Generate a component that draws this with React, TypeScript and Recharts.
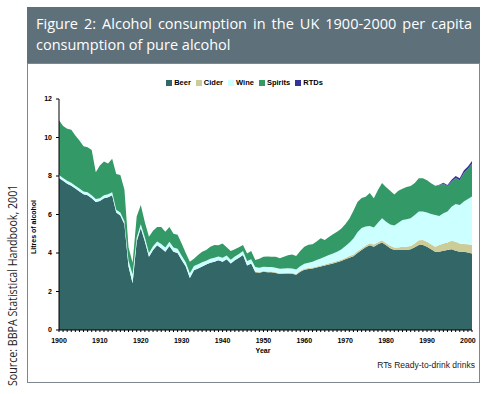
import React from 'react'
import { AreaChart, Area, XAxis, YAxis, Legend } from 'recharts'

// litres of pure alcohol per head, one value per year from 1900 to 2001
const beer = [
  7.9, 7.75, 7.6, 7.5, 7.35, 7.2, 7.05, 7.0, 6.85, 6.65,
  6.7, 6.85, 6.9, 7.0, 6.1, 5.95, 5.5, 3.3, 2.43, 4.6,
  5.3, 4.6, 3.8, 4.15, 4.4, 4.25, 4.07, 4.36, 4.07, 4.0,
  3.64, 3.3, 2.7, 3.1, 3.2, 3.3, 3.4, 3.5, 3.55, 3.62,
  3.55, 3.67, 3.45, 3.62, 3.75, 3.9, 3.35, 3.45, 3.0, 2.97,
  3.02, 3.0, 3.0, 2.96, 2.91, 2.92, 2.94, 2.92, 2.87, 3.03,
  3.13, 3.17, 3.2, 3.25, 3.3, 3.35, 3.4, 3.45, 3.52, 3.58,
  3.67, 3.75, 3.83, 4.0, 4.15, 4.3, 4.4, 4.33, 4.45, 4.55,
  4.4, 4.25, 4.15, 4.15, 4.16, 4.16, 4.19, 4.3, 4.42, 4.42,
  4.33, 4.19, 4.07, 4.07, 4.12, 4.16, 4.19, 4.12, 4.07, 4.07,
  4.02, 3.98,
]

const cider = [
  0, 0, 0, 0, 0, 0, 0, 0, 0, 0,
  0, 0, 0, 0, 0, 0, 0, 0, 0, 0,
  0, 0, 0, 0, 0, 0, 0, 0, 0, 0,
  0, 0, 0, 0, 0, 0, 0, 0, 0, 0,
  0, 0, 0, 0, 0, 0, 0, 0, 0.04, 0.04,
  0.04, 0.04, 0.04, 0.04, 0.04, 0.04, 0.04, 0.04, 0.04, 0.05,
  0.05, 0.05, 0.05, 0.05, 0.05, 0.05, 0.07, 0.07, 0.07, 0.07,
  0.07, 0.09, 0.09, 0.09, 0.09, 0.09, 0.11, 0.11, 0.11, 0.11,
  0.11, 0.13, 0.13, 0.13, 0.17, 0.17, 0.18, 0.2, 0.24, 0.25,
  0.26, 0.26, 0.26, 0.35, 0.38, 0.38, 0.45, 0.47, 0.43, 0.4,
  0.43, 0.44,
]

const wine = [
  0.15, 0.15, 0.15, 0.15, 0.15, 0.15, 0.15, 0.15, 0.15, 0.15,
  0.15, 0.15, 0.15, 0.15, 0.15, 0.15, 0.15, 0.3, 0.45, 0.2,
  0.2, 0.2, 0.2, 0.2, 0.2, 0.22, 0.22, 0.22, 0.22, 0.22,
  0.22, 0.22, 0.25, 0.22, 0.22, 0.22, 0.2, 0.2, 0.2, 0.2,
  0.2, 0.2, 0.2, 0.2, 0.2, 0.2, 0.23, 0.23, 0.23, 0.23,
  0.23, 0.23, 0.23, 0.23, 0.23, 0.23, 0.23, 0.23, 0.23, 0.23,
  0.26, 0.28, 0.3, 0.33, 0.37, 0.4, 0.43, 0.45, 0.48, 0.53,
  0.61, 0.69, 0.83, 0.99, 1.06, 0.99, 0.89, 0.89, 1.01, 1.14,
  1.11, 1.1, 1.15, 1.29, 1.38, 1.42, 1.43, 1.47, 1.49, 1.48,
  1.51, 1.58, 1.64, 1.5, 1.56, 1.61, 1.76, 1.96, 1.99, 2.2,
  2.35, 2.51,
]

const spirits = [
  2.85, 2.7, 2.7, 2.75, 2.6, 2.5, 2.35, 2.35, 2.35, 1.4,
  1.7, 1.75, 1.6, 1.75, 1.85, 1.95, 1.65, 0.7, 0.62, 1.1,
  1.0, 0.8, 0.85, 0.8, 0.75, 0.88, 0.81, 0.77, 0.71, 0.73,
  0.64, 0.48, 0.6, 0.38, 0.48, 0.55, 0.55, 0.63, 0.67, 0.58,
  0.75, 0.43, 0.45, 0.38, 0.35, 0.32, 0.4, 0.42, 0.37, 0.46,
  0.51, 0.55, 0.53, 0.57, 0.55, 0.61, 0.67, 0.73, 0.71, 0.79,
  0.89, 0.93, 0.91, 0.97, 1.04, 0.88, 0.93, 1.01, 1.03, 1.08,
  1.15, 1.25, 1.45, 1.57, 1.56, 1.54, 1.72, 1.51, 1.7, 1.84,
  1.8, 1.75, 1.61, 1.67, 1.63, 1.68, 1.68, 1.67, 1.73, 1.73,
  1.68, 1.59, 1.53, 1.6, 1.54, 1.33, 1.32, 1.35, 1.29, 1.49,
  1.57, 1.7,
]

const rtds = [
  0, 0, 0, 0, 0, 0, 0, 0, 0, 0,
  0, 0, 0, 0, 0, 0, 0, 0, 0, 0,
  0, 0, 0, 0, 0, 0, 0, 0, 0, 0,
  0, 0, 0, 0, 0, 0, 0, 0, 0, 0,
  0, 0, 0, 0, 0, 0, 0, 0, 0, 0,
  0, 0, 0, 0, 0, 0, 0, 0, 0, 0,
  0, 0, 0, 0, 0, 0, 0, 0, 0, 0,
  0, 0, 0, 0, 0, 0, 0, 0, 0, 0,
  0, 0, 0, 0, 0, 0, 0, 0, 0, 0,
  0, 0, 0, 0.03, 0.05, 0.05, 0.08, 0.1, 0.1, 0.12,
  0.13, 0.15,
]

const FIRST_YEAR = 1900
const years = beer.map((_, i) => FIRST_YEAR + i)
const decadeTicks = [1900, 1910, 1920, 1930, 1940, 1950, 1960, 1970, 1980, 1990, 2000]
const yTicks = [0, 2, 4, 6, 8, 10, 12]
const legendOrder = ['Beer', 'Cider', 'Wine', 'Spirits', 'RTDs']

const data = years.map((year, i) => ({
  year,
  beer: beer[i],
  cider: cider[i],
  wine: wine[i],
  spirits: spirits[i],
  rtds: rtds[i],
}))

const FONT = '"Liberation Sans", Arial, sans-serif'
const TITLE_FONT = '"Open Sans", "Noto Sans", sans-serif'

const YearTick = (props: any) => {
  const { x, y, payload } = props
  if (!decadeTicks.includes(payload.value)) return <g />
  return (
    <text x={x} y={y} dy={9} textAnchor="middle" fontSize={7} fontWeight="bold" fontFamily={FONT} fill="#000">
      {payload.value}
    </text>
  )
}

const LegendContent = (props: any) => {
  const items = [...(props.payload ?? [])].sort(
    (a: any, b: any) => legendOrder.indexOf(a.value) - legendOrder.indexOf(b.value)
  )
  return (
    <div style={{ display: 'flex', justifyContent: 'center', gap: 5, fontFamily: FONT, fontSize: 7.5, fontWeight: 'bold', color: '#000' }}>
      {items.map((p: any) => (
        <span key={p.value} style={{ display: 'flex', alignItems: 'center' }}>
          <span style={{ display: 'inline-block', width: 6, height: 6, background: p.color, marginRight: 2 }} />
          {p.value}
        </span>
      ))}
    </div>
  )
}

export default function App() {
  return (
    <div style={{ position: 'absolute', left: 0, top: 0, width: 489, height: 394, background: '#fff', overflow: 'hidden' }}>
      <div
        style={{
          position: 'absolute', left: 27, top: 7, width: 453, height: 56, background: '#5e707a',
          color: '#fff', fontFamily: TITLE_FONT, fontSize: 14.5, lineHeight: '21px', boxSizing: 'border-box',
          padding: '6px 8px 0 9px',
        }}
      >
        <div style={{ textAlign: 'justify', textAlignLast: 'justify' }}>
          Figure 2: Alcohol consumption in the UK 1900-2000 per capita
        </div>
        <div>consumption of pure alcohol</div>
      </div>

      <div style={{ position: 'absolute', left: 27, top: 63, width: 453, height: 320, border: '1px solid #7d878d', boxSizing: 'border-box' }} />

      <div
        style={{
          position: 'absolute', left: 3, top: 386, transform: 'rotate(-90deg) scaleX(0.82)', transformOrigin: 'left top',
          whiteSpace: 'nowrap', fontFamily: TITLE_FONT, fontSize: 13, lineHeight: '18px', color: '#222',
        }}
      >
        Source: BBPA Statistical Handbook, 2001
      </div>

      <div style={{ position: 'absolute', left: 0, top: 0 }}>
        <AreaChart width={489} height={394} data={data} margin={{ top: 99, right: 17, bottom: 0, left: 0 }}>
          <XAxis
            dataKey="year"
            type="number"
            domain={[1900, 2001]}
            ticks={years}
            interval={0}
            tick={<YearTick />}
            tickSize={2}
            tickMargin={2}
            height={64}
            axisLine={{ stroke: '#000' }}
            tickLine={{ stroke: '#000' }}
          />
          <YAxis
            domain={[0, 12]}
            ticks={yTicks}
            width={59}
            tickSize={3}
            tickMargin={4}
            axisLine={{ stroke: '#000' }}
            tickLine={{ stroke: '#000' }}
            tick={{ fontSize: 7, fontWeight: 'bold', fill: '#000', fontFamily: FONT }}
          />
          <Legend
            verticalAlign="middle"
            align="center"
            layout="horizontal"
            content={<LegendContent />}
            wrapperStyle={{ position: 'absolute', top: 78, left: 0, width: 489 }}
          />
          <Area type="linear" dataKey="beer" name="Beer" stackId="a" stroke="none" fill="#336666" fillOpacity={1} isAnimationActive={false} activeDot={false} />
          <Area type="linear" dataKey="cider" name="Cider" stackId="a" stroke="none" fill="#cccc99" fillOpacity={1} isAnimationActive={false} activeDot={false} />
          <Area type="linear" dataKey="wine" name="Wine" stackId="a" stroke="none" fill="#ccffff" fillOpacity={1} isAnimationActive={false} activeDot={false} />
          <Area type="linear" dataKey="spirits" name="Spirits" stackId="a" stroke="none" fill="#339966" fillOpacity={1} isAnimationActive={false} activeDot={false} />
          <Area type="linear" dataKey="rtds" name="RTDs" stackId="a" stroke="none" fill="#333399" fillOpacity={1} isAnimationActive={false} activeDot={false} />
        </AreaChart>
      </div>

      <div style={{ position: 'absolute', left: 0, width: 526, top: 347, textAlign: 'center', fontFamily: FONT, fontSize: 7, fontWeight: 'bold' }}>
        Year
      </div>
      <div
        style={{
          position: 'absolute', left: 29, top: 254, transform: 'rotate(-90deg)', transformOrigin: 'left top',
          whiteSpace: 'nowrap', fontFamily: FONT, fontSize: 7, fontWeight: 'bold', lineHeight: '10px',
        }}
      >
        Litres of alcohol
      </div>
      <div style={{ position: 'absolute', right: 14, top: 360, fontFamily: FONT, fontSize: 8.5, color: '#222' }}>
        RTs Ready-to-drink drinks
      </div>
    </div>
  )
}
